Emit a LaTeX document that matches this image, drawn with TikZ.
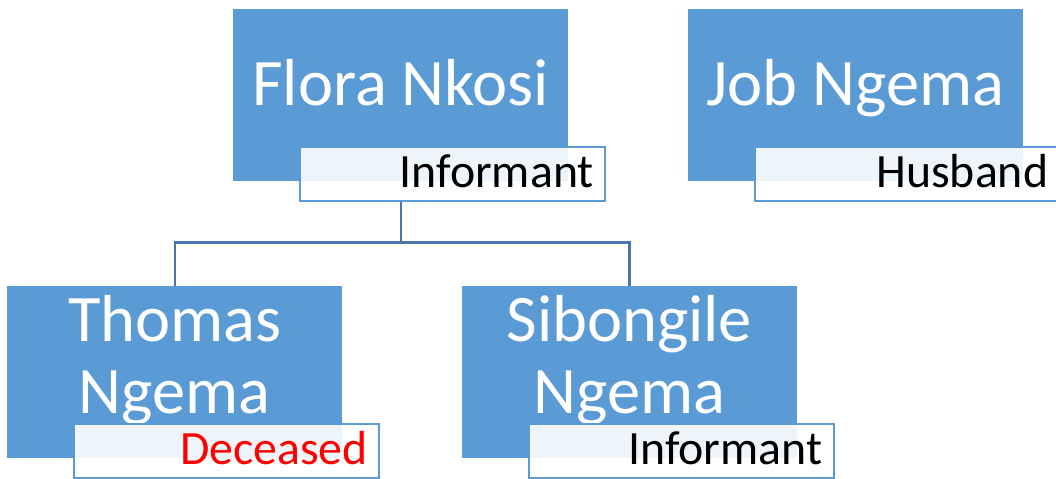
\documentclass[tikz,border=0pt]{standalone}
\usepackage{fontspec}
\setmainfont{Carlito}
\usetikzlibrary{positioning}

\definecolor{boxblue}{HTML}{5B9BD5}
\definecolor{linkblue}{HTML}{4777AB}

\begin{document}
\begin{tikzpicture}[node distance=2.975cm]
    \tikzstyle{person} = [rectangle, fill=boxblue, minimum width=8.375cm, minimum height=4.3cm, inner sep=0pt]
    \tikzstyle{personname} = [text=white, align=center, font=\fontsize{47.3}{51.2}\selectfont]
    \tikzstyle{tag} = [rectangle, draw=boxblue, line width=1.4pt, fill=white, fill opacity=0.9, minimum width=7.625cm, minimum height=1.37cm, inner sep=0pt, anchor=north west]
    \tikzstyle{tagtext} = [anchor=base east, font=\fontsize{34}{40}\selectfont, inner sep=0pt]
    \tikzstyle{link} = [draw=linkblue, line width=1.7pt]

    \useasboundingbox (0,0) rectangle (26.4,11.975);

    \node [person, anchor=north west] (flora) at (5.825,11.75) {};
    \node [person, right=of flora] (job) {};
    \node [person, anchor=north west] (thomas) at (0.175,4.825) {};
    \node [person, right=of thomas] (sibongile) {};

    \node [personname, anchor=base] (flora-name) at ([yshift=-2.425cm]flora.north) {Flora Nkosi};
    \node [personname, anchor=base] (job-name) at ([yshift=-2.425cm]job.north) {Job Ngema};
    \node [personname] (thomas-name) at ([yshift=0.3cm]thomas.center) {Thomas\\Ngema};
    \node [personname] (sibongile-name) at ([yshift=0.3cm]sibongile.center) {Sibongile\\Ngema};

    \node [tag] (flora-tag) at ([shift={(1.65,0.9)}]flora.south west) {};
    \node [tag] (job-tag) at ([shift={(1.65,0.9)}]job.south west) {};
    \node [tag] (thomas-tag) at ([shift={(1.65,0.9)}]thomas.south west) {};
    \node [tag] (sibongile-tag) at ([shift={(1.65,0.9)}]sibongile.south west) {};

    \node [tagtext] (flora-role) at ([shift={(-0.3,0.36)}]flora-tag.south east) {Informant};
    \node [tagtext] (job-role) at ([shift={(-0.3,0.36)}]job-tag.south east) {Husband};
    \node [tagtext, text=red] (thomas-role) at ([shift={(-0.3,0.36)}]thomas-tag.south east) {Deceased};
    \node [tagtext] (sibongile-role) at ([shift={(-0.3,0.36)}]sibongile-tag.south east) {Informant};

    \coordinate (split) at ([yshift=-1cm]flora.south |- flora-tag.south);
    \draw [link] (flora.south |- flora-tag.south) -- (split);
    \draw [link] (split) -| (thomas.north);
    \draw [link] (split) -| (sibongile.north);
\end{tikzpicture}
\end{document}
